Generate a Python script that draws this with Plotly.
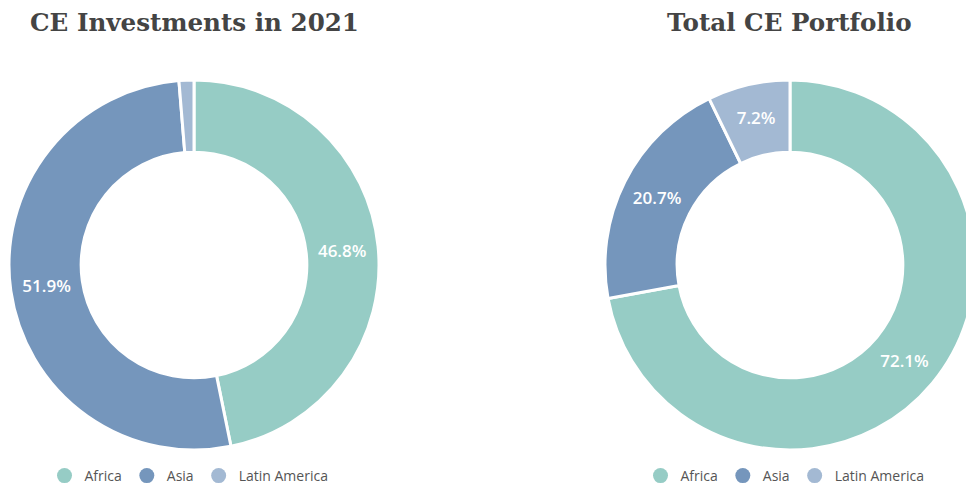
import plotly.graph_objects as go

regions = ["Africa", "Asia", "Latin America"]
colors = ["#96ccc5", "#7596bc", "#a3b9d3"]
inv_2021 = [46.8, 51.9, 1.3]
portfolio = [72.1, 20.7, 7.2]
titles = ["CE Investments in 2021", "Total CE Portfolio"]

W, H = 990, 486

def lbl(vals):
    return [f"{v:.1f}%" if v >= 3 else "" for v in vals]

fig = go.Figure()

domains = [
    dict(x=[9 / W, 379 / W], y=[36 / H, 406 / H]),
    dict(x=[605 / W, 975 / W], y=[36 / H, 406 / H]),
]

for i, vals in enumerate([inv_2021, portfolio]):
    fig.add_trace(go.Pie(
        labels=regions, values=vals, sort=False, direction="clockwise",
        rotation=0, hole=0.61, domain=domains[i],
        marker=dict(colors=colors, line=dict(color="white", width=3)),
        text=lbl(vals), texttemplate="%{text}", textinfo="text",
        textposition="inside", insidetextorientation="horizontal",
        textfont=dict(family="Open Sans", size=17, color="white", weight=600),
        showlegend=False, hoverinfo="label+value",
    ))

for li, lg in enumerate(["legend", "legend2"]):
    for r, c in zip(regions, colors):
        fig.add_trace(go.Scatter(
            x=[None], y=[None], mode="markers", name=r, legend=lg,
            marker=dict(symbol="circle", size=15, color=c),
            hoverinfo="skip",
        ))

legend_style = dict(
    orientation="h", xanchor="center", yanchor="middle",
    font=dict(family="Open Sans", size=14, color="#555"),
    bgcolor="rgba(0,0,0,0)", itemclick=False, itemdoubleclick=False,
)

centers = [189, 785]
fig.update_layout(
    width=W, height=H, margin=dict(l=0, r=0, t=0, b=0, autoexpand=False),
    paper_bgcolor="white", plot_bgcolor="white",
    xaxis=dict(visible=False), yaxis=dict(visible=False),
    legend=dict(x=centers[0] / W, y=(H - 476) / H, **legend_style),
    legend2=dict(x=centers[1] / W, y=(H - 476) / H, **legend_style),
    annotations=[
        dict(text=f"<b>{t}</b>", x=cx / W, y=(H - 22) / H, xref="paper", yref="paper",
             xanchor="center", yanchor="middle", showarrow=False,
             font=dict(family="DejaVu Serif", size=24.6, color="#444"))
        for t, cx in zip(titles, [194, 789])
    ],
)

fig.write_html(
    "out.html",
    config={"displayModeBar": False},
    post_script="document.documentElement.style.overflow='hidden';document.body.style.overflow='hidden';document.body.style.margin='0';",
)
